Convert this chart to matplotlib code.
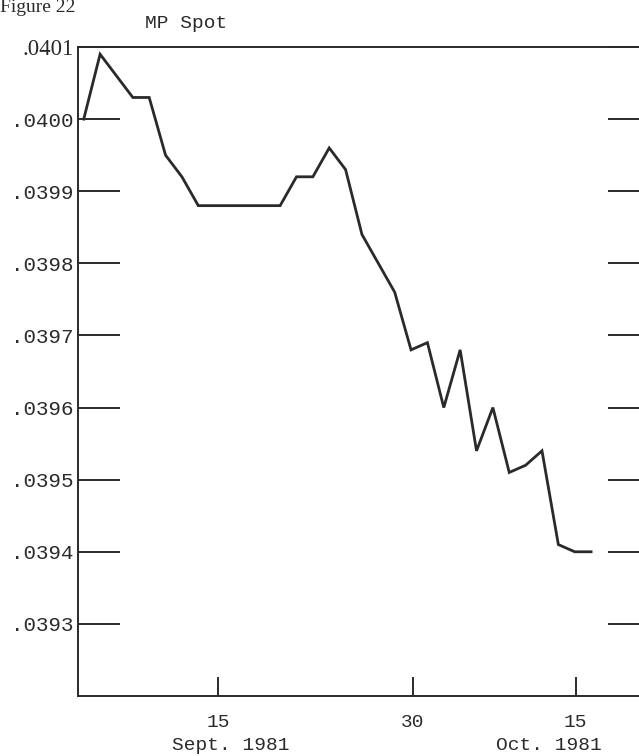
import matplotlib
matplotlib.use("Agg")
from matplotlib import pyplot as plt
from matplotlib import transforms

# trading-day index of each drawn vertex and the MP spot value there
day = [0, 1, 3, 4, 5, 6, 7, 12, 13, 14, 15, 16, 17, 18, 19, 20,
       21, 22, 23, 24, 25, 26, 27, 28, 29, 30, 31]
spot = [.04000, .04009, .04003, .04003, .03995, .03992, .03988, .03988,
        .03992, .03992, .03996, .03993, .03984, .03980, .03976, .03968,
        .03969, .03960, .03968, .03954, .03960, .03951, .03952, .03954,
        .03941, .03940, .03940]

y_ticks = [.0393, .0394, .0395, .0396, .0397, .0398, .0399, .0400, .0401]
y_labels = ['.0393', '.0394', '.0395', '.0396', '.0397', '.0398', '.0399', '.0400', '.0401']
x_ticks = [8.2, 20.1, 30.05]
x_labels = ['15', '30', '15']
months = ['Sept. 1981', 'Oct. 1981']
month_pos = [9.0, 28.4]

mono = 'Liberation Mono'
serif = 'Liberation Serif'
ink = '#2a2a2a'

fig = plt.figure(figsize=(6.39, 7.56), dpi=100)
ax = fig.add_axes([78 / 639, 60 / 756, 572 / 639, 649 / 756])

ax.plot(day, spot, color=ink, lw=2.0, solid_joinstyle='miter')
ax.set_xlim(-0.35, 34.6)
ax.set_ylim(.0392, .0401)

for s in ax.spines.values():
    s.set_linewidth(1.4)
    s.set_color(ink)

ax.set_yticks(y_ticks)
ax.set_yticklabels(y_labels, fontfamily=mono, fontsize=15, color=ink)
ax.tick_params(axis='y', direction='in', length=30, width=1.4, color=ink,
               pad=3, left=True, right=True)
top_lab = ax.get_yticklabels()[-1]
top_lab.set_fontfamily(serif)
top_lab.set_fontsize(16.5)

ax.set_xticks(x_ticks)
ax.set_xticklabels(x_labels, fontfamily=mono, fontsize=14, color=ink)
ax.tick_params(axis='x', direction='in', length=14, width=1.4, color=ink, pad=13)

trans = transforms.blended_transform_factory(ax.transData, fig.transFigure)
for m, p in zip(months, month_pos):
    ax.text(p, 11 / 756, m, transform=trans, ha='center', va='center',
            fontfamily=mono, fontsize=14, color=ink, clip_on=False)

fig.text(186 / 639, 1 - 23 / 756, 'MP Spot', ha='center', va='center',
         fontfamily=mono, fontsize=14, color=ink)
fig.text(0, 1 - 12 / 756, 'Figure 22', ha='left', va='baseline',
         fontfamily=serif, fontsize=14, color=ink)

fig.savefig('out.png', dpi=100)
